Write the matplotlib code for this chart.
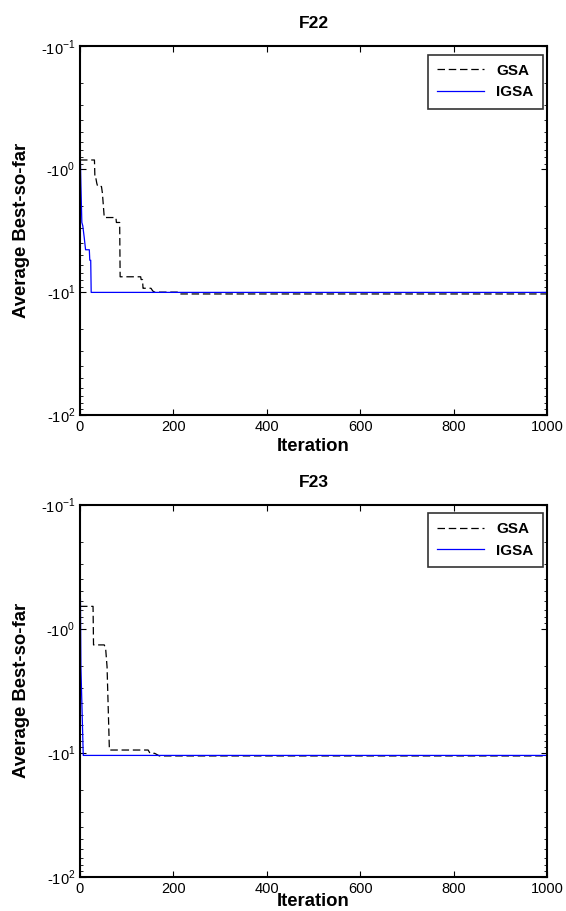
import numpy as np
import matplotlib
matplotlib.use("Agg")
import matplotlib.pyplot as plt
from matplotlib.ticker import FixedLocator, LogLocator, NullFormatter

plt.rcParams['font.family'] = ['Liberation Sans', 'DejaVu Sans']
plt.rcParams['mathtext.fontset'] = 'custom'
plt.rcParams['mathtext.rm'] = 'Liberation Sans'

# F22 convergence curves (average best-so-far, negative values)
gsa22_iter = [0, 31, 32, 34, 36, 38, 46, 48, 52, 77, 78, 80, 85, 86, 130, 131, 134, 135, 136, 152, 156, 160, 210, 212, 1000]
gsa22_val = [-0.84, -0.84, -1.18, -1.18, -1.30, -1.38, -1.38, -1.56, -2.47, -2.47, -2.71, -2.71, -2.71, -7.5, -7.5, -7.9, -7.9, -9.3, -9.3, -9.3, -9.8, -10.0, -10.0, -10.35, -10.35]
igsa22_iter = [0, 2, 4, 6, 9, 12, 20, 21, 23, 24, 1000]
igsa22_val = [-0.58, -1.34, -2.71, -2.88, -3.57, -4.52, -4.52, -5.5, -5.5, -10.05, -10.05]

# F23 convergence curves
gsa23_iter = [0, 28, 29, 52, 55, 58, 63, 146, 150, 160, 170, 1000]
gsa23_val = [-0.66, -0.66, -1.35, -1.35, -1.45, -2.03, -9.5, -9.5, -10.1, -10.1, -10.6, -10.6]
igsa23_iter = [0, 1, 2, 7, 8, 1000]
igsa23_val = [-0.57, -0.57, -2.03, -10.5, -10.5, -10.5]

titles = ['F22', 'F23']
series = [
    (gsa22_iter, gsa22_val, igsa22_iter, igsa22_val),
    (gsa23_iter, gsa23_val, igsa23_iter, igsa23_val),
]
ytick_vals = [0.1, 1, 10, 100]
ytick_labels = ['-10$^{-1}$', '-10$^{0}$', '-10$^{1}$', '-10$^{2}$']

fig = plt.figure(figsize=(5.66, 9.11), dpi=100)
positions = [[0.1413, 0.5445, 0.825, 0.4045], [0.1413, 0.0375, 0.825, 0.4085]]
xlabel_pads = [3, -2]

for pos, xpad, title, (gi, gv, ii, iv) in zip(positions, xlabel_pads, titles, series):
    ax = fig.add_axes(pos)
    # values are negative: plot magnitude on log axis, labels carry the sign
    ax.plot(gi, -np.array(gv), color='black', linestyle=(0, (6, 3)), lw=0.9, label='GSA')
    ax.plot(ii, -np.array(iv), color='blue', lw=0.9, label='IGSA')
    ax.set_yscale('log')
    ax.set_ylim(100, 0.1)
    ax.set_xlim(0, 1000)
    ax.set_xticks([0, 200, 400, 600, 800, 1000])
    ax.yaxis.set_major_locator(FixedLocator(ytick_vals))
    ax.set_yticklabels(ytick_labels)
    ax.yaxis.set_minor_locator(LogLocator(base=10, subs=np.arange(2, 10)))
    ax.yaxis.set_minor_formatter(NullFormatter())
    ax.tick_params(which='both', direction='in', top=True, right=True, labelsize=10.5)
    ax.tick_params(which='major', length=4, width=0.8)
    ax.tick_params(which='minor', length=2, width=0.6)
    for s in ax.spines.values():
        s.set_linewidth(1.5)
    ax.set_title(title, fontsize=12.5, fontweight='bold', pad=13)
    ax.set_xlabel('Iteration', fontsize=13.3, fontweight='bold', labelpad=xpad)
    ax.set_ylabel('Average Best-so-far', fontsize=13.3, fontweight='bold', labelpad=8)
    leg = ax.legend(loc='upper right', bbox_to_anchor=(0.991, 0.978), borderaxespad=0,
                    fancybox=False, edgecolor='black',
                    prop={'weight': 'bold', 'size': 11}, handlelength=3.1,
                    handletextpad=0.8, labelspacing=0.5, borderpad=0.6)
    leg.get_frame().set_linewidth(1.2)

fig.savefig('out.png', dpi=100)
